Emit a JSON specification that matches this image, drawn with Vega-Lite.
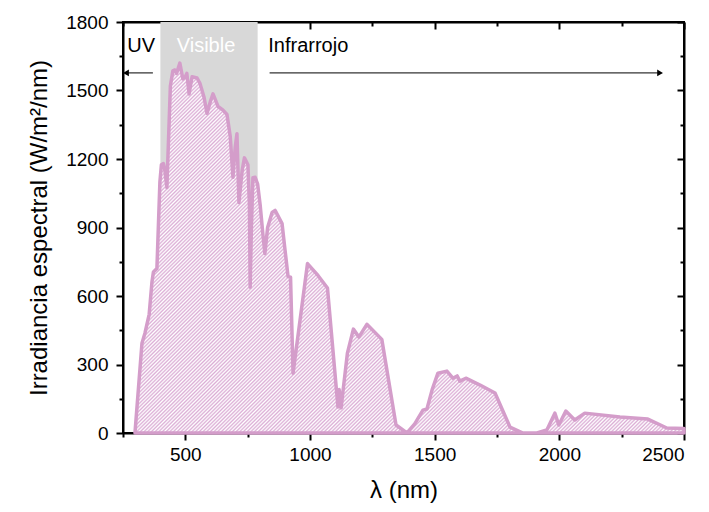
{
  "$schema": "https://vega.github.io/schema/vega-lite/v6.json",
  "width": 561,
  "height": 411,
  "autosize": {"type": "none"},
  "padding": {"left": 123, "top": 22, "right": 25, "bottom": 79},
  "background": "white",
  "config": {
    "view": {"stroke": "black", "strokeWidth": 2},
    "font": "Liberation Sans",
    "axis": {"grid": false, "domainColor": "black", "tickColor": "black", "domainWidth": 2, "tickWidth": 2, "labelColor": "black", "titleColor": "black", "labelFont": "Liberation Sans", "titleFont": "Liberation Sans", "titleFontWeight": "normal", "format": "d"}
  },
  "datasets": {
    "band": [{"start": 400, "end": 790}],
    "spectrum": [
      {"nm": 298, "E": 0}, {"nm": 326, "E": 393}, {"nm": 338, "E": 437}, {"nm": 355, "E": 520},
      {"nm": 366, "E": 660}, {"nm": 372, "E": 705}, {"nm": 386, "E": 720}, {"nm": 398, "E": 1100},
      {"nm": 404, "E": 1175}, {"nm": 412, "E": 1180}, {"nm": 418, "E": 1150}, {"nm": 426, "E": 1075},
      {"nm": 440, "E": 1520}, {"nm": 450, "E": 1586}, {"nm": 458, "E": 1590}, {"nm": 465, "E": 1575},
      {"nm": 478, "E": 1620}, {"nm": 490, "E": 1551}, {"nm": 500, "E": 1560}, {"nm": 506, "E": 1575},
      {"nm": 515, "E": 1485}, {"nm": 527, "E": 1560}, {"nm": 547, "E": 1555}, {"nm": 559, "E": 1530},
      {"nm": 575, "E": 1470}, {"nm": 587, "E": 1400}, {"nm": 600, "E": 1450}, {"nm": 611, "E": 1485},
      {"nm": 631, "E": 1430}, {"nm": 650, "E": 1415}, {"nm": 667, "E": 1395}, {"nm": 680, "E": 1300},
      {"nm": 691, "E": 1120}, {"nm": 700, "E": 1250}, {"nm": 707, "E": 1311}, {"nm": 715, "E": 1010},
      {"nm": 728, "E": 1150}, {"nm": 737, "E": 1205}, {"nm": 751, "E": 1175}, {"nm": 757, "E": 1000},
      {"nm": 760, "E": 638}, {"nm": 765, "E": 900}, {"nm": 771, "E": 1118}, {"nm": 780, "E": 1120},
      {"nm": 790, "E": 1090}, {"nm": 800, "E": 1000}, {"nm": 812, "E": 860}, {"nm": 819, "E": 786},
      {"nm": 830, "E": 900}, {"nm": 848, "E": 966}, {"nm": 860, "E": 975}, {"nm": 888, "E": 917},
      {"nm": 900, "E": 800}, {"nm": 912, "E": 685}, {"nm": 922, "E": 682}, {"nm": 932, "E": 262},
      {"nm": 990, "E": 742}, {"nm": 1032, "E": 690}, {"nm": 1070, "E": 635}, {"nm": 1112, "E": 114},
      {"nm": 1117, "E": 190}, {"nm": 1125, "E": 110}, {"nm": 1132, "E": 180}, {"nm": 1150, "E": 350},
      {"nm": 1174, "E": 455}, {"nm": 1196, "E": 420}, {"nm": 1228, "E": 476}, {"nm": 1288, "E": 410},
      {"nm": 1345, "E": 35}, {"nm": 1389, "E": 0}, {"nm": 1420, "E": 40}, {"nm": 1453, "E": 100},
      {"nm": 1469, "E": 105}, {"nm": 1490, "E": 190}, {"nm": 1513, "E": 262}, {"nm": 1549, "E": 271},
      {"nm": 1573, "E": 240}, {"nm": 1590, "E": 250}, {"nm": 1601, "E": 227}, {"nm": 1625, "E": 240},
      {"nm": 1682, "E": 210}, {"nm": 1742, "E": 175}, {"nm": 1802, "E": 26}, {"nm": 1854, "E": 0},
      {"nm": 1910, "E": 0}, {"nm": 1950, "E": 13}, {"nm": 1982, "E": 87}, {"nm": 1998, "E": 35},
      {"nm": 2026, "E": 96}, {"nm": 2062, "E": 57}, {"nm": 2102, "E": 87}, {"nm": 2243, "E": 70},
      {"nm": 2355, "E": 61}, {"nm": 2431, "E": 22}, {"nm": 2500, "E": 20}
    ],
    "labels": [
      {"nm": 323, "E": 1695, "text": "UV", "color": "black"},
      {"nm": 583, "E": 1695, "text": "Visible", "color": "white"},
      {"nm": 993, "E": 1695, "text": "Infrarrojo", "color": "black"}
    ],
    "arrows": [
      {"from": 370, "to": 262, "E": 1577, "dir": "left"},
      {"from": 838, "to": 2404, "E": 1577, "dir": "right"}
    ]
  },
  "resolve": {"axis": {"x": "independent", "y": "independent"}},
  "layer": [
    {
      "data": {"name": "band"},
      "mark": {"type": "rect", "fill": "#d8d8d8"},
      "encoding": {
        "x": {"field": "start", "type": "quantitative", "scale": {"domain": [250, 2500], "nice": false, "zero": false},
          "axis": {"orient": "bottom", "values": [500, 1000, 1500, 2000, 2500], "tickSize": 7, "labelFontSize": 19, "labelPadding": 5, "title": "λ (nm)", "titleFontSize": 24, "titlePadding": 14}},
        "x2": {"field": "end"}
      }
    },
    {
      "data": {"name": "spectrum"},
      "mark": {"type": "area", "stroke": "#d49dca", "strokeWidth": 3.5, "strokeJoin": "round",
        "fill": {"gradient": "linear", "x1": 0, "y1": 0, "x2": 1.15, "y2": 0.778, "stops": [
{"offset":0,"color":"#dbadd5"},{"offset":0.002,"color":"#fff"},{"offset":0.004,"color":"#dbadd5"},{"offset":0.006,"color":"#fff"},{"offset":0.008,"color":"#dbadd5"},
{"offset":0.01,"color":"#fff"},{"offset":0.012,"color":"#dbadd5"},{"offset":0.014,"color":"#fff"},{"offset":0.016,"color":"#dbadd5"},{"offset":0.018,"color":"#fff"},
{"offset":0.02,"color":"#dbadd5"},{"offset":0.022,"color":"#fff"},{"offset":0.024,"color":"#dbadd5"},{"offset":0.026,"color":"#fff"},{"offset":0.028,"color":"#dbadd5"},
{"offset":0.03,"color":"#fff"},{"offset":0.032,"color":"#dbadd5"},{"offset":0.034,"color":"#fff"},{"offset":0.036,"color":"#dbadd5"},{"offset":0.038,"color":"#fff"},
{"offset":0.04,"color":"#dbadd5"},{"offset":0.042,"color":"#fff"},{"offset":0.044,"color":"#dbadd5"},{"offset":0.046,"color":"#fff"},{"offset":0.048,"color":"#dbadd5"},
{"offset":0.05,"color":"#fff"},{"offset":0.052,"color":"#dbadd5"},{"offset":0.054,"color":"#fff"},{"offset":0.056,"color":"#dbadd5"},{"offset":0.058,"color":"#fff"},
{"offset":0.06,"color":"#dbadd5"},{"offset":0.062,"color":"#fff"},{"offset":0.064,"color":"#dbadd5"},{"offset":0.066,"color":"#fff"},{"offset":0.068,"color":"#dbadd5"},
{"offset":0.07,"color":"#fff"},{"offset":0.072,"color":"#dbadd5"},{"offset":0.074,"color":"#fff"},{"offset":0.076,"color":"#dbadd5"},{"offset":0.078,"color":"#fff"},
{"offset":0.08,"color":"#dbadd5"},{"offset":0.082,"color":"#fff"},{"offset":0.084,"color":"#dbadd5"},{"offset":0.086,"color":"#fff"},{"offset":0.088,"color":"#dbadd5"},
{"offset":0.09,"color":"#fff"},{"offset":0.092,"color":"#dbadd5"},{"offset":0.094,"color":"#fff"},{"offset":0.096,"color":"#dbadd5"},{"offset":0.098,"color":"#fff"},
{"offset":0.1,"color":"#dbadd5"},{"offset":0.102,"color":"#fff"},{"offset":0.104,"color":"#dbadd5"},{"offset":0.106,"color":"#fff"},{"offset":0.108,"color":"#dbadd5"},
{"offset":0.11,"color":"#fff"},{"offset":0.112,"color":"#dbadd5"},{"offset":0.114,"color":"#fff"},{"offset":0.116,"color":"#dbadd5"},{"offset":0.118,"color":"#fff"},
{"offset":0.12,"color":"#dbadd5"},{"offset":0.122,"color":"#fff"},{"offset":0.124,"color":"#dbadd5"},{"offset":0.126,"color":"#fff"},{"offset":0.128,"color":"#dbadd5"},
{"offset":0.13,"color":"#fff"},{"offset":0.132,"color":"#dbadd5"},{"offset":0.134,"color":"#fff"},{"offset":0.136,"color":"#dbadd5"},{"offset":0.138,"color":"#fff"},
{"offset":0.14,"color":"#dbadd5"},{"offset":0.142,"color":"#fff"},{"offset":0.144,"color":"#dbadd5"},{"offset":0.146,"color":"#fff"},{"offset":0.148,"color":"#dbadd5"},
{"offset":0.15,"color":"#fff"},{"offset":0.152,"color":"#dbadd5"},{"offset":0.154,"color":"#fff"},{"offset":0.156,"color":"#dbadd5"},{"offset":0.158,"color":"#fff"},
{"offset":0.16,"color":"#dbadd5"},{"offset":0.162,"color":"#fff"},{"offset":0.164,"color":"#dbadd5"},{"offset":0.166,"color":"#fff"},{"offset":0.168,"color":"#dbadd5"},
{"offset":0.17,"color":"#fff"},{"offset":0.172,"color":"#dbadd5"},{"offset":0.174,"color":"#fff"},{"offset":0.176,"color":"#dbadd5"},{"offset":0.178,"color":"#fff"},
{"offset":0.18,"color":"#dbadd5"},{"offset":0.182,"color":"#fff"},{"offset":0.184,"color":"#dbadd5"},{"offset":0.186,"color":"#fff"},{"offset":0.188,"color":"#dbadd5"},
{"offset":0.19,"color":"#fff"},{"offset":0.192,"color":"#dbadd5"},{"offset":0.194,"color":"#fff"},{"offset":0.196,"color":"#dbadd5"},{"offset":0.198,"color":"#fff"},
{"offset":0.2,"color":"#dbadd5"},{"offset":0.202,"color":"#fff"},{"offset":0.204,"color":"#dbadd5"},{"offset":0.206,"color":"#fff"},{"offset":0.208,"color":"#dbadd5"},
{"offset":0.21,"color":"#fff"},{"offset":0.212,"color":"#dbadd5"},{"offset":0.214,"color":"#fff"},{"offset":0.216,"color":"#dbadd5"},{"offset":0.218,"color":"#fff"},
{"offset":0.22,"color":"#dbadd5"},{"offset":0.222,"color":"#fff"},{"offset":0.224,"color":"#dbadd5"},{"offset":0.226,"color":"#fff"},{"offset":0.228,"color":"#dbadd5"},
{"offset":0.23,"color":"#fff"},{"offset":0.232,"color":"#dbadd5"},{"offset":0.234,"color":"#fff"},{"offset":0.236,"color":"#dbadd5"},{"offset":0.238,"color":"#fff"},
{"offset":0.24,"color":"#dbadd5"},{"offset":0.242,"color":"#fff"},{"offset":0.244,"color":"#dbadd5"},{"offset":0.246,"color":"#fff"},{"offset":0.248,"color":"#dbadd5"},
{"offset":0.25,"color":"#fff"},{"offset":0.252,"color":"#dbadd5"},{"offset":0.254,"color":"#fff"},{"offset":0.256,"color":"#dbadd5"},{"offset":0.258,"color":"#fff"},
{"offset":0.26,"color":"#dbadd5"},{"offset":0.262,"color":"#fff"},{"offset":0.264,"color":"#dbadd5"},{"offset":0.266,"color":"#fff"},{"offset":0.268,"color":"#dbadd5"},
{"offset":0.27,"color":"#fff"},{"offset":0.272,"color":"#dbadd5"},{"offset":0.274,"color":"#fff"},{"offset":0.276,"color":"#dbadd5"},{"offset":0.278,"color":"#fff"},
{"offset":0.28,"color":"#dbadd5"},{"offset":0.282,"color":"#fff"},{"offset":0.284,"color":"#dbadd5"},{"offset":0.286,"color":"#fff"},{"offset":0.288,"color":"#dbadd5"},
{"offset":0.29,"color":"#fff"},{"offset":0.292,"color":"#dbadd5"},{"offset":0.294,"color":"#fff"},{"offset":0.296,"color":"#dbadd5"},{"offset":0.298,"color":"#fff"},
{"offset":0.3,"color":"#dbadd5"},{"offset":0.302,"color":"#fff"},{"offset":0.304,"color":"#dbadd5"},{"offset":0.306,"color":"#fff"},{"offset":0.308,"color":"#dbadd5"},
{"offset":0.31,"color":"#fff"},{"offset":0.312,"color":"#dbadd5"},{"offset":0.314,"color":"#fff"},{"offset":0.316,"color":"#dbadd5"},{"offset":0.318,"color":"#fff"},
{"offset":0.32,"color":"#dbadd5"},{"offset":0.322,"color":"#fff"},{"offset":0.324,"color":"#dbadd5"},{"offset":0.326,"color":"#fff"},{"offset":0.328,"color":"#dbadd5"},
{"offset":0.33,"color":"#fff"},{"offset":0.332,"color":"#dbadd5"},{"offset":0.334,"color":"#fff"},{"offset":0.336,"color":"#dbadd5"},{"offset":0.338,"color":"#fff"},
{"offset":0.34,"color":"#dbadd5"},{"offset":0.342,"color":"#fff"},{"offset":0.344,"color":"#dbadd5"},{"offset":0.346,"color":"#fff"},{"offset":0.348,"color":"#dbadd5"},
{"offset":0.35,"color":"#fff"},{"offset":0.352,"color":"#dbadd5"},{"offset":0.354,"color":"#fff"},{"offset":0.356,"color":"#dbadd5"},{"offset":0.358,"color":"#fff"},
{"offset":0.36,"color":"#dbadd5"},{"offset":0.362,"color":"#fff"},{"offset":0.364,"color":"#dbadd5"},{"offset":0.366,"color":"#fff"},{"offset":0.368,"color":"#dbadd5"},
{"offset":0.37,"color":"#fff"},{"offset":0.372,"color":"#dbadd5"},{"offset":0.374,"color":"#fff"},{"offset":0.376,"color":"#dbadd5"},{"offset":0.378,"color":"#fff"},
{"offset":0.38,"color":"#dbadd5"},{"offset":0.382,"color":"#fff"},{"offset":0.384,"color":"#dbadd5"},{"offset":0.386,"color":"#fff"},{"offset":0.388,"color":"#dbadd5"},
{"offset":0.39,"color":"#fff"},{"offset":0.392,"color":"#dbadd5"},{"offset":0.394,"color":"#fff"},{"offset":0.396,"color":"#dbadd5"},{"offset":0.398,"color":"#fff"},
{"offset":0.4,"color":"#dbadd5"},{"offset":0.402,"color":"#fff"},{"offset":0.404,"color":"#dbadd5"},{"offset":0.406,"color":"#fff"},{"offset":0.408,"color":"#dbadd5"},
{"offset":0.41,"color":"#fff"},{"offset":0.412,"color":"#dbadd5"},{"offset":0.414,"color":"#fff"},{"offset":0.416,"color":"#dbadd5"},{"offset":0.418,"color":"#fff"},
{"offset":0.42,"color":"#dbadd5"},{"offset":0.422,"color":"#fff"},{"offset":0.424,"color":"#dbadd5"},{"offset":0.426,"color":"#fff"},{"offset":0.428,"color":"#dbadd5"},
{"offset":0.43,"color":"#fff"},{"offset":0.432,"color":"#dbadd5"},{"offset":0.434,"color":"#fff"},{"offset":0.436,"color":"#dbadd5"},{"offset":0.438,"color":"#fff"},
{"offset":0.44,"color":"#dbadd5"},{"offset":0.442,"color":"#fff"},{"offset":0.444,"color":"#dbadd5"},{"offset":0.446,"color":"#fff"},{"offset":0.448,"color":"#dbadd5"},
{"offset":0.45,"color":"#fff"},{"offset":0.452,"color":"#dbadd5"},{"offset":0.454,"color":"#fff"},{"offset":0.456,"color":"#dbadd5"},{"offset":0.458,"color":"#fff"},
{"offset":0.46,"color":"#dbadd5"},{"offset":0.462,"color":"#fff"},{"offset":0.464,"color":"#dbadd5"},{"offset":0.466,"color":"#fff"},{"offset":0.468,"color":"#dbadd5"},
{"offset":0.47,"color":"#fff"},{"offset":0.472,"color":"#dbadd5"},{"offset":0.474,"color":"#fff"},{"offset":0.476,"color":"#dbadd5"},{"offset":0.478,"color":"#fff"},
{"offset":0.48,"color":"#dbadd5"},{"offset":0.482,"color":"#fff"},{"offset":0.484,"color":"#dbadd5"},{"offset":0.486,"color":"#fff"},{"offset":0.488,"color":"#dbadd5"},
{"offset":0.49,"color":"#fff"},{"offset":0.492,"color":"#dbadd5"},{"offset":0.494,"color":"#fff"},{"offset":0.496,"color":"#dbadd5"},{"offset":0.498,"color":"#fff"},
{"offset":0.5,"color":"#dbadd5"},{"offset":0.502,"color":"#fff"},{"offset":0.504,"color":"#dbadd5"},{"offset":0.506,"color":"#fff"},{"offset":0.508,"color":"#dbadd5"},
{"offset":0.51,"color":"#fff"},{"offset":0.512,"color":"#dbadd5"},{"offset":0.514,"color":"#fff"},{"offset":0.516,"color":"#dbadd5"},{"offset":0.518,"color":"#fff"},
{"offset":0.52,"color":"#dbadd5"},{"offset":0.522,"color":"#fff"},{"offset":0.524,"color":"#dbadd5"},{"offset":0.526,"color":"#fff"},{"offset":0.528,"color":"#dbadd5"},
{"offset":0.53,"color":"#fff"},{"offset":0.532,"color":"#dbadd5"},{"offset":0.534,"color":"#fff"},{"offset":0.536,"color":"#dbadd5"},{"offset":0.538,"color":"#fff"},
{"offset":0.54,"color":"#dbadd5"},{"offset":0.542,"color":"#fff"},{"offset":0.544,"color":"#dbadd5"},{"offset":0.546,"color":"#fff"},{"offset":0.548,"color":"#dbadd5"},
{"offset":0.55,"color":"#fff"},{"offset":0.552,"color":"#dbadd5"},{"offset":0.554,"color":"#fff"},{"offset":0.556,"color":"#dbadd5"},{"offset":0.558,"color":"#fff"},
{"offset":0.56,"color":"#dbadd5"},{"offset":0.562,"color":"#fff"},{"offset":0.564,"color":"#dbadd5"},{"offset":0.566,"color":"#fff"},{"offset":0.568,"color":"#dbadd5"},
{"offset":0.57,"color":"#fff"},{"offset":0.572,"color":"#dbadd5"},{"offset":0.574,"color":"#fff"},{"offset":0.576,"color":"#dbadd5"},{"offset":0.578,"color":"#fff"},
{"offset":0.58,"color":"#dbadd5"},{"offset":0.582,"color":"#fff"},{"offset":0.584,"color":"#dbadd5"},{"offset":0.586,"color":"#fff"},{"offset":0.588,"color":"#dbadd5"},
{"offset":0.59,"color":"#fff"},{"offset":0.592,"color":"#dbadd5"},{"offset":0.594,"color":"#fff"},{"offset":0.596,"color":"#dbadd5"},{"offset":0.598,"color":"#fff"},
{"offset":0.6,"color":"#dbadd5"},{"offset":0.602,"color":"#fff"},{"offset":0.604,"color":"#dbadd5"},{"offset":0.606,"color":"#fff"},{"offset":0.608,"color":"#dbadd5"},
{"offset":0.61,"color":"#fff"},{"offset":0.612,"color":"#dbadd5"},{"offset":0.614,"color":"#fff"},{"offset":0.616,"color":"#dbadd5"},{"offset":0.618,"color":"#fff"},
{"offset":0.62,"color":"#dbadd5"},{"offset":0.622,"color":"#fff"},{"offset":0.624,"color":"#dbadd5"},{"offset":0.626,"color":"#fff"},{"offset":0.628,"color":"#dbadd5"},
{"offset":0.63,"color":"#fff"},{"offset":0.632,"color":"#dbadd5"},{"offset":0.634,"color":"#fff"},{"offset":0.636,"color":"#dbadd5"},{"offset":0.638,"color":"#fff"},
{"offset":0.64,"color":"#dbadd5"},{"offset":0.642,"color":"#fff"},{"offset":0.644,"color":"#dbadd5"},{"offset":0.646,"color":"#fff"},{"offset":0.648,"color":"#dbadd5"},
{"offset":0.65,"color":"#fff"},{"offset":0.652,"color":"#dbadd5"},{"offset":0.654,"color":"#fff"},{"offset":0.656,"color":"#dbadd5"},{"offset":0.658,"color":"#fff"},
{"offset":0.66,"color":"#dbadd5"},{"offset":0.662,"color":"#fff"},{"offset":0.664,"color":"#dbadd5"},{"offset":0.666,"color":"#fff"},{"offset":0.668,"color":"#dbadd5"},
{"offset":0.67,"color":"#fff"},{"offset":0.672,"color":"#dbadd5"},{"offset":0.674,"color":"#fff"},{"offset":0.676,"color":"#dbadd5"},{"offset":0.678,"color":"#fff"},
{"offset":0.68,"color":"#dbadd5"},{"offset":0.682,"color":"#fff"},{"offset":0.684,"color":"#dbadd5"},{"offset":0.686,"color":"#fff"},{"offset":0.688,"color":"#dbadd5"},
{"offset":0.69,"color":"#fff"},{"offset":0.692,"color":"#dbadd5"},{"offset":0.694,"color":"#fff"},{"offset":0.696,"color":"#dbadd5"},{"offset":0.698,"color":"#fff"},
{"offset":0.7,"color":"#dbadd5"},{"offset":0.702,"color":"#fff"},{"offset":0.704,"color":"#dbadd5"},{"offset":0.706,"color":"#fff"},{"offset":0.708,"color":"#dbadd5"},
{"offset":0.71,"color":"#fff"},{"offset":0.712,"color":"#dbadd5"},{"offset":0.714,"color":"#fff"},{"offset":0.716,"color":"#dbadd5"},{"offset":0.718,"color":"#fff"},
{"offset":0.72,"color":"#dbadd5"},{"offset":0.722,"color":"#fff"},{"offset":0.724,"color":"#dbadd5"},{"offset":0.726,"color":"#fff"},{"offset":0.728,"color":"#dbadd5"},
{"offset":0.73,"color":"#fff"},{"offset":0.732,"color":"#dbadd5"},{"offset":0.734,"color":"#fff"},{"offset":0.736,"color":"#dbadd5"},{"offset":0.738,"color":"#fff"},
{"offset":0.74,"color":"#dbadd5"},{"offset":0.742,"color":"#fff"},{"offset":0.744,"color":"#dbadd5"},{"offset":0.746,"color":"#fff"},{"offset":0.748,"color":"#dbadd5"},
{"offset":0.75,"color":"#fff"},{"offset":0.752,"color":"#dbadd5"},{"offset":0.754,"color":"#fff"},{"offset":0.756,"color":"#dbadd5"},{"offset":0.758,"color":"#fff"},
{"offset":0.76,"color":"#dbadd5"},{"offset":0.762,"color":"#fff"},{"offset":0.764,"color":"#dbadd5"},{"offset":0.766,"color":"#fff"},{"offset":0.768,"color":"#dbadd5"},
{"offset":0.77,"color":"#fff"},{"offset":0.772,"color":"#dbadd5"},{"offset":0.774,"color":"#fff"},{"offset":0.776,"color":"#dbadd5"},{"offset":0.778,"color":"#fff"},
{"offset":0.78,"color":"#dbadd5"},{"offset":0.782,"color":"#fff"},{"offset":0.784,"color":"#dbadd5"},{"offset":0.786,"color":"#fff"},{"offset":0.788,"color":"#dbadd5"},
{"offset":0.79,"color":"#fff"},{"offset":0.792,"color":"#dbadd5"},{"offset":0.794,"color":"#fff"},{"offset":0.796,"color":"#dbadd5"},{"offset":0.798,"color":"#fff"},
{"offset":0.8,"color":"#dbadd5"},{"offset":0.802,"color":"#fff"},{"offset":0.804,"color":"#dbadd5"},{"offset":0.806,"color":"#fff"},{"offset":0.808,"color":"#dbadd5"},
{"offset":0.81,"color":"#fff"},{"offset":0.812,"color":"#dbadd5"},{"offset":0.814,"color":"#fff"},{"offset":0.816,"color":"#dbadd5"},{"offset":0.818,"color":"#fff"},
{"offset":0.82,"color":"#dbadd5"},{"offset":0.822,"color":"#fff"},{"offset":0.824,"color":"#dbadd5"},{"offset":0.826,"color":"#fff"},{"offset":0.828,"color":"#dbadd5"},
{"offset":0.83,"color":"#fff"},{"offset":0.832,"color":"#dbadd5"},{"offset":0.834,"color":"#fff"},{"offset":0.836,"color":"#dbadd5"},{"offset":0.838,"color":"#fff"},
{"offset":0.84,"color":"#dbadd5"},{"offset":0.842,"color":"#fff"},{"offset":0.844,"color":"#dbadd5"},{"offset":0.846,"color":"#fff"},{"offset":0.848,"color":"#dbadd5"},
{"offset":0.85,"color":"#fff"},{"offset":0.852,"color":"#dbadd5"},{"offset":0.854,"color":"#fff"},{"offset":0.856,"color":"#dbadd5"},{"offset":0.858,"color":"#fff"},
{"offset":0.86,"color":"#dbadd5"},{"offset":0.862,"color":"#fff"},{"offset":0.864,"color":"#dbadd5"},{"offset":0.866,"color":"#fff"},{"offset":0.868,"color":"#dbadd5"},
{"offset":0.87,"color":"#fff"},{"offset":0.872,"color":"#dbadd5"},{"offset":0.874,"color":"#fff"},{"offset":0.876,"color":"#dbadd5"},{"offset":0.878,"color":"#fff"},
{"offset":0.88,"color":"#dbadd5"},{"offset":0.882,"color":"#fff"},{"offset":0.884,"color":"#dbadd5"},{"offset":0.886,"color":"#fff"},{"offset":0.888,"color":"#dbadd5"},
{"offset":0.89,"color":"#fff"},{"offset":0.892,"color":"#dbadd5"},{"offset":0.894,"color":"#fff"},{"offset":0.896,"color":"#dbadd5"},{"offset":0.898,"color":"#fff"},
{"offset":0.9,"color":"#dbadd5"},{"offset":0.902,"color":"#fff"},{"offset":0.904,"color":"#dbadd5"},{"offset":0.906,"color":"#fff"},{"offset":0.908,"color":"#dbadd5"},
{"offset":0.91,"color":"#fff"},{"offset":0.912,"color":"#dbadd5"},{"offset":0.914,"color":"#fff"},{"offset":0.916,"color":"#dbadd5"},{"offset":0.918,"color":"#fff"},
{"offset":0.92,"color":"#dbadd5"},{"offset":0.922,"color":"#fff"},{"offset":0.924,"color":"#dbadd5"},{"offset":0.926,"color":"#fff"},{"offset":0.928,"color":"#dbadd5"},
{"offset":0.93,"color":"#fff"},{"offset":0.932,"color":"#dbadd5"},{"offset":0.934,"color":"#fff"},{"offset":0.936,"color":"#dbadd5"},{"offset":0.938,"color":"#fff"},
{"offset":0.94,"color":"#dbadd5"},{"offset":0.942,"color":"#fff"},{"offset":0.944,"color":"#dbadd5"},{"offset":0.946,"color":"#fff"},{"offset":0.948,"color":"#dbadd5"},
{"offset":0.95,"color":"#fff"},{"offset":0.952,"color":"#dbadd5"},{"offset":0.954,"color":"#fff"},{"offset":0.956,"color":"#dbadd5"},{"offset":0.958,"color":"#fff"},
{"offset":0.96,"color":"#dbadd5"},{"offset":0.962,"color":"#fff"},{"offset":0.964,"color":"#dbadd5"},{"offset":0.966,"color":"#fff"},{"offset":0.968,"color":"#dbadd5"},
{"offset":0.97,"color":"#fff"},{"offset":0.972,"color":"#dbadd5"},{"offset":0.974,"color":"#fff"},{"offset":0.976,"color":"#dbadd5"},{"offset":0.978,"color":"#fff"},
{"offset":0.98,"color":"#dbadd5"},{"offset":0.982,"color":"#fff"},{"offset":0.984,"color":"#dbadd5"},{"offset":0.986,"color":"#fff"},{"offset":0.988,"color":"#dbadd5"},
{"offset":0.99,"color":"#fff"},{"offset":0.992,"color":"#dbadd5"},{"offset":0.994,"color":"#fff"},{"offset":0.996,"color":"#dbadd5"},{"offset":0.998,"color":"#fff"},
{"offset":1,"color":"#dbadd5"}
        ]}},
      "encoding": {
        "x": {"field": "nm", "type": "quantitative",
          "axis": {"orient": "bottom", "values": [250, 750, 1250, 1750, 2250], "tickSize": 4, "labels": false, "domain": false, "title": null}},
        "y": {"field": "E", "type": "quantitative", "scale": {"domain": [0, 1800], "nice": false},
          "axis": {"orient": "left", "values": [0, 300, 600, 900, 1200, 1500, 1800], "tickSize": 7, "labelFontSize": 19, "labelPadding": 8, "title": "Irradiancia espectral (W/m²/nm)", "titleFontSize": 24, "titlePadding": 14}}
      }
    },
    {
      "data": {"name": "spectrum"},
      "mark": {"type": "line", "opacity": 0},
      "encoding": {
        "x": {"field": "nm", "type": "quantitative",
          "axis": {"orient": "top", "values": [500, 1000, 1500, 2000, 2500], "tickSize": -7, "labels": false, "title": null}},
        "y": {"field": "E", "type": "quantitative",
          "axis": {"orient": "left", "values": [150, 450, 750, 1050, 1350, 1650], "tickSize": 4, "labels": false, "domain": false, "title": null}}
      }
    },
    {
      "data": {"name": "spectrum"},
      "mark": {"type": "line", "opacity": 0},
      "encoding": {
        "x": {"field": "nm", "type": "quantitative",
          "axis": {"orient": "top", "values": [250, 750, 1250, 1750, 2250], "tickSize": -4, "labels": false, "domain": false, "title": null}},
        "y": {"field": "E", "type": "quantitative",
          "axis": {"orient": "right", "values": [0, 300, 600, 900, 1200, 1500, 1800], "tickSize": -7, "labels": false, "title": null}}
      }
    },
    {
      "data": {"name": "spectrum"},
      "mark": {"type": "line", "opacity": 0},
      "encoding": {
        "x": {"field": "nm", "type": "quantitative", "axis": null},
        "y": {"field": "E", "type": "quantitative",
          "axis": {"orient": "right", "values": [150, 450, 750, 1050, 1350, 1650], "tickSize": -4, "labels": false, "domain": false, "title": null}}
      }
    },
    {
      "data": {"name": "arrows"},
      "mark": {"type": "rule", "color": "black", "strokeWidth": 1},
      "encoding": {
        "x": {"field": "from", "type": "quantitative", "axis": null},
        "x2": {"field": "to"},
        "y": {"field": "E", "type": "quantitative", "axis": null}
      }
    },
    {
      "data": {"name": "arrows"},
      "mark": {"type": "point", "filled": true, "color": "black", "opacity": 1, "size": 45},
      "encoding": {
        "x": {"field": "to", "type": "quantitative", "axis": null},
        "y": {"field": "E", "type": "quantitative", "axis": null},
        "shape": {"field": "dir", "type": "nominal", "scale": {"domain": ["left", "right"], "range": ["triangle-left", "triangle-right"]}, "legend": null}
      }
    },
    {
      "data": {"name": "labels"},
      "mark": {"type": "text", "fontSize": 20, "baseline": "middle", "align": "center", "font": "Liberation Sans"},
      "encoding": {
        "x": {"field": "nm", "type": "quantitative", "axis": null},
        "y": {"field": "E", "type": "quantitative", "axis": null},
        "text": {"field": "text"},
        "color": {"field": "color", "type": "nominal", "scale": null}
      }
    }
  ]
}
